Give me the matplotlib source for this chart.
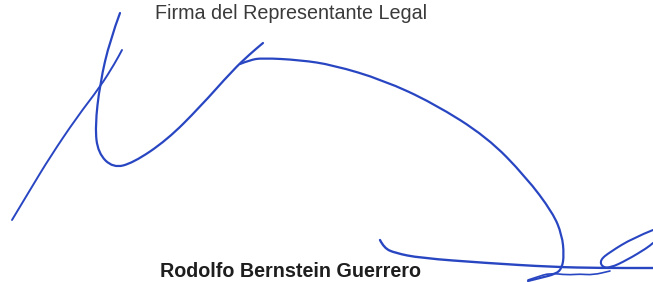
import matplotlib
matplotlib.use('Agg')
import matplotlib.pyplot as plt
from matplotlib.path import Path
from matplotlib.patches import PathPatch

# text labels
title_text = 'Firma del Representante Legal'
name_text = 'Rodolfo Bernstein Guerrero'

# signature strokes, points (pixel coords, y down)
stroke_diag = [(12, 220), (30, 190), (50, 157), (77, 117), (100, 87), (115, 63), (122, 50)]
stroke_v = [(120, 13), (110, 40), (100, 83), (95, 127), (98, 153), (113, 168), (133, 163),
            (167, 140), (200, 107), (233, 70), (250, 54), (263, 43)]
stroke_arc = [(240, 64), (250, 60), (262, 58), (300, 60), (333, 65), (383, 80), (433, 103),
              (487, 137), (526, 177), (553, 213), (562, 235), (564, 255), (562, 268),
              (556, 274), (540, 278), (528, 281)]
stroke_squiggle = [(528, 280), (537, 277), (550, 273), (567, 275), (580, 274), (593, 275), (610, 271)]
stroke_under = [(380, 240), (384, 248), (395, 253), (420, 258), (486, 263), (553, 267),
                (600, 268), (653, 268)]
stroke_loop = [(653, 230), (633, 238), (610, 252), (600, 260), (602, 267), (610, 268),
               (627, 260), (647, 248), (653, 243)]

ink = '#2946c2'


def smooth_path(pts):
    # quadratic bezier through midpoints
    verts = [pts[0]]
    codes = [Path.MOVETO]
    for i in range(1, len(pts) - 1):
        mid = ((pts[i][0] + pts[i + 1][0]) / 2, (pts[i][1] + pts[i + 1][1]) / 2)
        verts += [pts[i], mid]
        codes += [Path.CURVE3, Path.CURVE3]
    verts.append(pts[-1])
    codes.append(Path.LINETO)
    return Path(verts, codes)


fig = plt.figure(figsize=(6.53, 2.82), dpi=100)
ax = fig.add_axes([0, 0, 1, 1])
ax.set_xlim(0, 653)
ax.set_ylim(282, 0)
ax.axis('off')

for s, lw in [(stroke_diag, 1.4), (stroke_v, 1.6), (stroke_arc, 1.6),
              (stroke_squiggle, 1.2), (stroke_under, 1.7), (stroke_loop, 1.5)]:
    ax.add_patch(PathPatch(smooth_path(s), fill=False, edgecolor=ink, lw=lw,
                           capstyle='round', joinstyle='round'))

ax.text(155, 19, title_text, fontsize=14.2, color='#3a3a3a',
        family=['Liberation Sans Narrow', 'Liberation Sans'], va='baseline')
ax.text(160, 277, name_text, fontsize=14.2, color='#1e1e1e', fontweight='bold',
        family=['Liberation Sans Narrow', 'Liberation Sans'], va='baseline')

fig.savefig('out.png', dpi=100, facecolor='white')
